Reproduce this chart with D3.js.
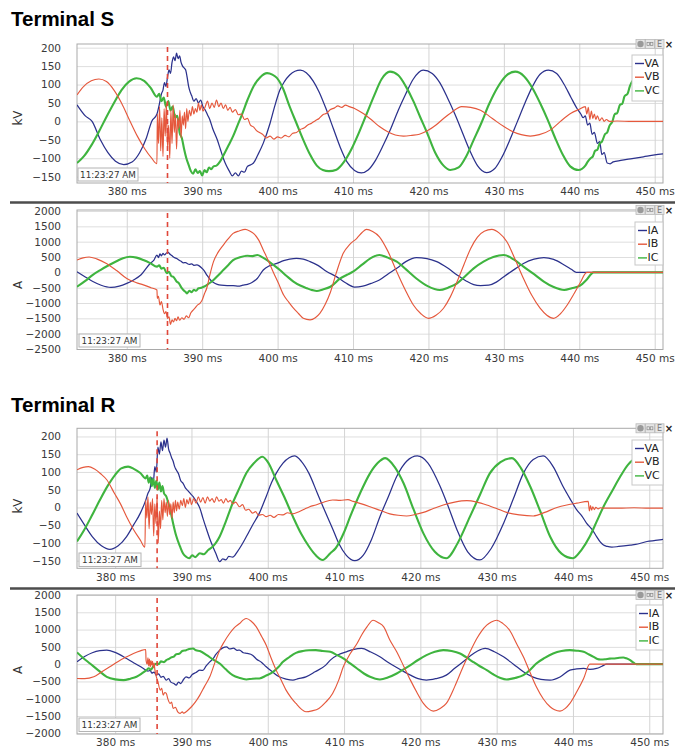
<!DOCTYPE html>
<html><head><meta charset="utf-8">
<script src="https://cdn.jsdelivr.net/npm/d3@7"></script>
<style>body{margin:0;background:#fff}svg{display:block}</style>
</head><body>
<svg id="c" width="675" height="750"></svg>
<script>
// ---------- tick labels / categories ----------
const timeTicks=[380,390,400,410,420,430,440,450];
const voltTicks=[200,150,100,50,0,-50,-100,-150];
const currTicksS=[2000,1500,1000,500,0,-500,-1000,-1500,-2000,-2500];
const currTicksR=[2000,1500,1000,500,0,-500,-1000,-1500,-2000];
const voltNames=["VA","VB","VC"];
const currNames=["IA","IB","IC"];
const titles=["Terminal S","Terminal R"];
const stampText="11:23:27 AM";
const faultTimes=[385.4,385.5];

// ---------- Terminal S voltages [ms, kV] ----------
const VA_S=[[373.4,45],[374.5,15],[375.4,0],[376.5,-50],[377.5,-85],[378.5,-108],[379.6,-117],[380.7,-110],[381.7,-85],[382.6,-45],[383.3,0],[384.0,20],[384.3,45],[384.6,75],[384.8,85],[385.0,105],[385.2,95],[385.4,120],[385.6,140],[385.8,130],[386.0,160],[386.2,175],[386.4,165],[386.6,185],[386.8,170],[387.0,178],[387.2,160],[387.4,150],[387.6,145],[387.8,140],[388.0,120],[388.2,95],[388.4,80],[388.6,70],[388.9,55],[389.2,62],[389.5,50],[389.8,58],[390.1,40],[390.4,31],[390.7,18],[391.0,5],[391.4,-20],[392.0,-50],[392.4,-75],[392.8,-100],[393.2,-120],[393.6,-135],[394.0,-148],[394.4,-140],[394.8,-148],[395.2,-135],[395.6,-138],[396.0,-122],[396.4,-118],[396.8,-113],[397.4,-90],[398.1,-59],[399.0,-5],[399.6,40],[400.3,85],[400.9,108],[401.6,126],[402.3,136],[403.0,139],[403.8,132],[404.7,110],[405.5,80],[406.5,30],[407.4,-20],[408.3,-70],[409.2,-110],[410.2,-133],[411.1,-140],[412.0,-132],[413.0,-105],[414.0,-65],[415.0,-20],[416.0,30],[417.0,75],[418.0,115],[419.3,139],[420.5,130],[421.5,105],[422.5,65],[423.5,20],[424.5,-30],[425.5,-80],[426.5,-120],[427.7,-139],[428.8,-128],[429.8,-95],[430.8,-50],[431.8,0],[432.8,50],[433.8,95],[434.8,128],[435.9,139],[437.0,130],[438.0,100],[438.9,65],[439.7,35],[440.2,20],[440.5,10],[440.8,15],[441.1,-10],[441.4,-5],[441.7,-35],[442.0,-30],[442.4,-60],[442.7,-55],[443.0,-90],[443.3,-85],[443.7,-113],[444.1,-115],[444.5,-110],[445.5,-106],[447,-101],[448.5,-96],[450,-91],[451.1,-88]];
const VB_S=[[373.4,72],[374.3,95],[375.3,110],[376.3,115],[377.3,108],[378.3,85],[379.3,50],[380.4,2],[381.4,-40],[382.4,-75],[383.3,-100],[384.0,-115],[384.05,20],[384.2,-60],[384.35,40],[384.5,-80],[384.65,10],[384.8,-95],[384.95,35],[385.1,-40],[385.25,50],[385.4,-70],[385.55,-10],[385.7,-100],[385.85,30],[386.0,-60],[386.15,45],[386.3,-30],[386.45,20],[386.6,-75],[386.75,10],[386.9,-20],[387.05,30],[387.2,-45],[387.35,15],[387.5,-10],[387.65,25],[387.8,-20],[387.95,35],[388.1,0],[388.3,30],[388.5,15],[388.7,40],[388.9,20],[389.1,35],[389.3,25],[389.5,50],[389.7,30],[389.9,45],[390.1,28],[390.4,40],[390.7,55],[391.0,35],[391.3,50],[391.6,38],[391.9,58],[392.2,40],[392.5,50],[392.8,35],[393.1,45],[393.4,30],[393.7,38],[394.0,25],[394.4,32],[394.8,18],[395.2,20],[395.6,5],[396.0,8],[396.4,-10],[396.8,-15],[397.2,-25],[397.6,-30],[398.0,-35],[398.5,-45],[399.0,-40],[399.5,-48],[400.0,-42],[400.5,-45],[401.0,-38],[401.5,-42],[402.0,-32],[402.5,-30],[403.0,-22],[403.5,-18],[404.0,-10],[404.5,-5],[405.0,2],[405.5,8],[406.0,18],[406.5,22],[407.0,32],[407.5,36],[408.0,42],[408.5,38],[409.0,44],[409.5,40],[410.2,35],[411.3,22],[412.4,5],[413.5,-14],[414.6,-28],[415.6,-37],[416.7,-40],[417.8,-38],[418.8,-35],[419.9,-25],[421.0,-10],[422.0,8],[423.1,25],[424.4,40],[425.6,38],[426.9,30],[428.0,15],[429.0,0],[430.0,-14],[431.2,-28],[432.3,-36],[433.5,-40],[434.7,-36],[436.2,-23],[437.5,0],[438.9,22],[439.9,32],[440.8,40],[441.0,20],[441.2,38],[441.4,5],[441.6,28],[441.8,8],[442.0,20],[442.2,5],[442.4,15],[442.7,2],[443.0,10],[443.3,0],[443.6,5],[444.0,0],[445,1],[447,0],[449,0],[451.1,0]];
const VC_S=[[373.4,-113],[374.3,-95],[375.3,-65],[376.3,-28],[377.3,12],[378.3,50],[379.3,85],[380.3,108],[381.3,117],[382.3,110],[383.2,90],[384.0,67],[384.3,75],[384.6,55],[384.9,65],[385.2,40],[385.5,55],[385.8,30],[386.1,40],[386.4,10],[386.7,15],[387.0,-30],[387.3,-45],[387.6,-75],[387.9,-100],[388.2,-118],[388.5,-135],[388.8,-142],[389.1,-130],[389.4,-140],[389.7,-135],[390.0,-147],[390.3,-132],[390.6,-138],[390.9,-125],[391.2,-130],[391.5,-122],[391.9,-120],[392.4,-108],[393.0,-85],[393.5,-65],[394.1,-40],[394.7,-10],[395.3,20],[396.0,58],[396.8,95],[397.7,120],[398.6,131],[399.3,127],[399.9,118],[400.7,90],[401.6,40],[402.5,-5],[403.4,-50],[404.3,-90],[405.2,-120],[406.0,-132],[406.8,-135],[407.8,-131],[408.8,-110],[409.8,-75],[410.8,-30],[411.8,20],[412.8,70],[413.8,115],[414.9,135],[416.0,125],[417.0,95],[418.0,55],[418.9,12],[419.9,-35],[420.9,-85],[422.0,-120],[422.9,-132],[424.0,-125],[425.0,-95],[426.0,-50],[427.0,-5],[428.0,45],[429.1,90],[430.2,122],[431.5,135],[432.7,122],[433.8,90],[434.8,50],[435.8,5],[436.8,-45],[437.8,-90],[438.8,-122],[439.9,-132],[440.8,-120],[441.1,-110],[441.5,-100],[441.8,-95],[442.1,-80],[442.4,-77],[442.7,-60],[443.0,-55],[443.4,-35],[443.7,-30],[444.0,-12],[444.4,0],[444.7,20],[445.0,22],[445.4,45],[445.7,48],[446.0,68],[446.4,75],[446.7,95],[447.0,108],[447.6,120],[448.3,132],[449.2,135],[450.2,128],[451.1,118]];

// ---------- Terminal S currents [ms, A] ----------
const IA_S=[[373.4,20],[374.5,-150],[375.5,-300],[376.6,-420],[377.9,-490],[379.0,-450],[380.0,-360],[380.9,-250],[381.9,-80],[383.1,290],[383.6,400],[384.0,565],[384.2,480],[384.4,600],[384.6,540],[384.8,620],[385.0,570],[385.3,640],[385.5,650],[385.7,600],[385.9,560],[386.1,520],[386.4,470],[386.6,455],[386.9,400],[387.2,360],[387.5,310],[387.8,320],[388.0,290],[388.3,260],[388.6,280],[388.9,230],[389.3,240],[389.6,210],[389.9,150],[390.2,75],[390.6,-80],[391.1,-250],[391.5,-330],[392.0,-390],[392.5,-420],[393.3,-435],[394.1,-430],[394.8,-450],[395.4,-420],[396.0,-390],[396.6,-330],[397.3,-200],[398.1,75],[398.8,200],[399.4,250],[399.9,290],[400.8,380],[401.6,430],[402.5,455],[403.4,430],[404.3,350],[405.4,220],[406.5,30],[407.8,-140],[409.0,-340],[410.2,-480],[411.3,-450],[412.4,-360],[413.5,-250],[414.6,-60],[415.8,130],[417.0,350],[418.4,480],[419.8,450],[421.1,350],[422.5,150],[423.8,-87],[425.0,-280],[426.0,-400],[426.9,-435],[428.0,-420],[429.0,-320],[430.0,-140],[431.3,80],[432.6,290],[434.0,430],[435.3,480],[436.6,420],[438.0,240],[439.0,90],[439.6,0],[441,0],[451.1,0]];
const IB_S=[[373.4,400],[374.2,470],[375.0,500],[376.0,440],[377.3,290],[378.7,50],[380.0,-200],[381.2,-330],[382.2,-410],[383.2,-500],[384.0,-575],[384.05,-850],[384.2,-780],[384.4,-1065],[384.6,-950],[384.8,-1200],[385.0,-1350],[385.2,-1280],[385.4,-1500],[385.6,-1450],[385.8,-1700],[386.0,-1550],[386.2,-1620],[386.4,-1500],[386.6,-1580],[386.8,-1450],[387.0,-1560],[387.3,-1480],[387.6,-1530],[387.9,-1420],[388.2,-1480],[388.5,-1320],[388.8,-1230],[389.1,-1150],[389.4,-1060],[389.7,-1010],[390.0,-900],[390.3,-700],[390.6,-520],[391.0,-100],[391.5,350],[392.1,650],[392.8,890],[393.4,1080],[394.1,1270],[394.9,1350],[395.7,1400],[396.3,1350],[396.8,1270],[397.5,1050],[398.1,730],[398.8,360],[399.4,20],[400.1,-350],[400.8,-740],[401.5,-980],[402.1,-1170],[402.8,-1350],[403.4,-1500],[404.3,-1550],[405.0,-1480],[405.6,-1340],[406.3,-1050],[407.0,-650],[407.8,0],[408.7,620],[409.6,920],[410.5,1110],[411.2,1300],[411.8,1400],[412.6,1330],[413.5,1160],[414.6,700],[415.8,20],[416.9,-560],[418.0,-1065],[419.0,-1350],[420.0,-1500],[421.0,-1400],[422.0,-1170],[422.9,-800],[423.8,-300],[424.7,250],[425.6,780],[426.5,1150],[427.4,1340],[428.4,1400],[429.4,1280],[430.4,1000],[431.5,420],[432.6,-200],[433.7,-750],[434.8,-1170],[435.7,-1400],[436.6,-1500],[437.5,-1350],[438.4,-1065],[439.3,-700],[440.1,-350],[441.0,0],[442,0],[451.1,0]];
const IC_S=[[373.4,-470],[374.5,-280],[375.5,-80],[376.5,75],[377.6,230],[378.7,370],[379.5,460],[380.4,510],[381.3,480],[382.2,400],[383.1,300],[384.0,185],[384.3,230],[384.6,120],[384.9,150],[385.3,-30],[385.6,20],[385.9,-120],[386.2,-150],[386.6,-300],[386.9,-350],[387.2,-480],[387.5,-575],[387.8,-640],[388.0,-685],[388.3,-600],[388.6,-650],[388.9,-570],[389.2,-600],[389.5,-520],[389.9,-500],[390.2,-470],[390.8,-380],[391.5,-250],[392.2,-80],[392.8,75],[393.5,250],[394.1,400],[395.0,490],[396.0,540],[396.7,530],[397.3,565],[398.0,490],[398.6,400],[399.5,230],[400.3,75],[401.2,-120],[402.1,-300],[403.0,-430],[403.9,-520],[404.6,-580],[405.2,-610],[406.0,-560],[407.0,-470],[408.3,-200],[409.2,-80],[410.0,20],[411.2,250],[412.3,455],[413.5,565],[414.6,480],[415.8,350],[417.1,80],[418.4,-200],[419.9,-450],[421.5,-575],[422.6,-500],[423.8,-360],[424.9,-120],[426.0,130],[427.3,350],[428.6,500],[430.0,565],[431.3,420],[432.6,185],[434.0,-60],[435.3,-300],[436.6,-480],[438.0,-575],[439.0,-520],[440.1,-435],[441.0,-230],[441.9,0],[443,0],[451.1,0]];

// ---------- Terminal R voltages [ms, kV] ----------
const VA_R=[[375.0,-16],[376.0,-50],[377.0,-82],[378.2,-108],[379.3,-118],[380.4,-108],[381.5,-82],[382.4,-50],[383.3,-16],[384.0,20],[384.3,40],[384.6,55],[384.8,85],[385.0,70],[385.2,115],[385.4,100],[385.6,170],[385.8,150],[386.0,185],[386.2,160],[386.4,190],[386.6,170],[386.8,195],[387.0,165],[387.2,153],[387.4,140],[387.6,130],[387.8,115],[388.0,106],[388.3,95],[388.6,75],[388.9,68],[389.2,55],[389.5,48],[389.9,38],[390.2,31],[390.6,18],[391.1,-2],[391.5,-30],[392.0,-63],[392.4,-88],[392.8,-110],[393.2,-130],[393.7,-153],[394.1,-145],[394.5,-148],[394.9,-138],[395.4,-140],[396.0,-125],[396.6,-105],[397.2,-82],[398.0,-50],[398.9,-16],[399.8,31],[400.5,70],[401.1,96],[402.0,125],[402.8,140],[403.5,145],[404.4,130],[405.4,96],[406.5,40],[407.6,-16],[408.5,-60],[409.3,-101],[410.3,-135],[411.4,-150],[412.5,-135],[413.6,-90],[414.7,-26],[415.8,30],[416.9,87],[418.2,130],[419.6,145],[421.0,125],[422.6,59],[423.7,0],[424.8,-63],[426.2,-125],[427.8,-148],[429.3,-115],[430.9,-45],[432.2,25],[433.5,96],[434.8,135],[436.1,145],[437.4,115],[438.7,59],[439.6,25],[440.5,-7],[441.2,-25],[441.8,-45],[442.5,-62],[443.1,-82],[443.6,-98],[444.0,-106],[444.5,-110],[445.1,-112],[446.0,-110],[447.5,-106],[448.5,-103],[449.7,-96],[450.8,-93],[451.8,-90]];
const VB_R=[[375.0,106],[375.8,113],[376.5,115],[377.3,108],[378.1,95],[378.9,78],[379.9,40],[380.7,10],[381.5,-26],[382.4,-62],[383.3,-92],[383.9,-112],[384.0,20],[384.15,-30],[384.3,30],[384.45,-60],[384.6,15],[384.75,-20],[384.9,25],[385.05,-80],[385.2,10],[385.35,-45],[385.5,30],[385.65,-100],[385.8,-10],[385.95,-60],[386.1,20],[386.25,-35],[386.4,25],[386.55,-15],[386.7,15],[386.85,-25],[387.0,20],[387.15,-20],[387.3,10],[387.45,-30],[387.6,15],[387.75,-15],[387.9,20],[388.05,-10],[388.2,15],[388.4,-5],[388.6,20],[388.8,5],[389.0,25],[389.2,0],[389.4,22],[389.6,10],[389.8,28],[390.0,8],[390.3,25],[390.6,12],[390.9,30],[391.2,15],[391.5,28],[391.8,12],[392.1,30],[392.4,18],[392.7,25],[393.0,14],[393.3,30],[393.6,18],[393.9,22],[394.2,12],[394.5,25],[394.8,15],[395.1,20],[395.4,10],[395.8,15],[396.3,2],[396.7,8],[397.1,-8],[397.5,-5],[398.0,-16],[398.4,-12],[398.8,-22],[399.3,-20],[399.8,-26],[400.3,-22],[400.8,-28],[401.4,-20],[402.0,-21],[402.6,-15],[403.2,-18],[404.1,-12],[404.8,-5],[405.5,2],[406.3,7],[407.2,14],[408.5,21],[409.5,20],[410.5,22],[411.2,17],[412.3,10],[413.4,2],[414.7,-8],[416.0,-18],[417.1,-22],[418.2,-24],[419.3,-20],[420.4,-14],[421.7,-3],[423.0,7],[424.5,15],[426.1,19],[427.4,15],[428.7,7],[430.0,-3],[431.3,-14],[433.0,-21],[434.8,-24],[436.3,-14],[437.9,0],[439.2,7],[440.5,12],[442.0,17],[442.15,-10],[442.3,5],[442.45,-8],[442.6,2],[442.8,-6],[443.0,0],[443.3,-4],[443.6,-1],[444,-2],[446,-2],[448,-1],[450,-2],[451.8,-2]];
const VC_R=[[375.0,-96],[375.9,-65],[376.9,-25],[378.0,21],[379.0,60],[380.0,92],[380.8,110],[381.7,115],[382.5,108],[383.3,97],[384.0,82],[384.2,90],[384.4,70],[384.6,85],[384.8,60],[385.0,80],[385.2,55],[385.4,75],[385.6,50],[385.8,70],[386.0,45],[386.2,60],[386.4,40],[386.7,31],[387.0,10],[387.3,-15],[387.6,-45],[388.0,-80],[388.5,-110],[388.9,-130],[389.3,-139],[389.7,-143],[390.1,-135],[390.5,-140],[391.1,-129],[391.6,-132],[392.2,-120],[392.8,-110],[393.2,-100],[393.7,-82],[394.5,-40],[395.4,12],[396.3,55],[397.2,97],[398.2,125],[399.3,143],[400.1,125],[401.1,78],[402.2,28],[403.3,-26],[404.4,-75],[405.4,-110],[406.3,-135],[407.2,-148],[408.2,-129],[408.9,-115],[410.0,-70],[410.8,-26],[412.1,40],[413.4,96],[414.4,125],[415.4,139],[416.6,115],[417.8,68],[419.1,-5],[420.4,-73],[421.9,-125],[423.4,-143],[424.9,-100],[426.5,-26],[427.8,35],[429.1,96],[430.5,128],[432.0,139],[433.2,110],[434.4,59],[435.7,-10],[437.0,-82],[438.5,-130],[440.0,-143],[441.1,-120],[442.2,-82],[443.1,-40],[444.0,2],[445.1,45],[446.2,87],[447.2,120],[448.2,137],[449.5,140],[450.5,130],[451.8,115]];

// ---------- Terminal R currents [ms, A] ----------
const IA_R=[[375.0,67],[376.0,220],[377.0,330],[378.0,390],[378.9,405],[380.0,340],[381.5,164],[382.6,20],[383.7,-125],[384.3,-200],[384.6,-180],[384.8,-260],[385.1,-230],[385.4,-318],[385.7,-280],[386.0,-380],[386.3,-350],[386.7,-462],[387.0,-420],[387.3,-520],[387.7,-560],[388.0,-607],[388.3,-520],[388.6,-560],[389.0,-430],[389.3,-366],[389.7,-400],[390.1,-300],[390.6,-240],[391.1,-173],[391.5,-180],[391.9,-60],[392.4,67],[392.8,150],[393.2,280],[393.7,405],[394.1,470],[394.6,500],[395.0,440],[395.5,460],[396.0,400],[396.3,405],[396.8,330],[397.3,310],[398.0,260],[398.5,150],[399.2,50],[399.8,-77],[400.6,-220],[401.5,-366],[402.4,-430],[403.3,-462],[404.0,-420],[405.0,-366],[406.2,-220],[407.6,-29],[408.2,116],[409.3,280],[410.3,356],[411.3,430],[412.3,453],[413.5,350],[414.7,212],[415.8,50],[416.9,-96],[417.8,-210],[418.7,-318],[419.7,-420],[420.8,-462],[422.0,-420],[423.4,-318],[424.5,-120],[425.6,67],[426.6,250],[427.5,380],[428.5,453],[429.7,360],[430.9,212],[432.2,0],[433.5,-221],[434.7,-370],[435.8,-440],[437.0,-462],[438.3,-370],[439.6,-173],[440.5,-140],[441.4,-125],[442.2,-150],[443.1,-125],[443.8,-60],[444.4,0],[446,0],[451.8,0]];
const IB_R=[[375.0,-414],[376.0,-420],[377.2,-366],[378.2,-230],[379.3,-77],[380.4,80],[381.5,212],[382.4,310],[383.3,385],[384.0,424],[384.05,116],[384.2,0],[384.3,180],[384.4,-50],[384.5,150],[384.6,-80],[384.7,100],[384.8,-30],[384.9,80],[385.0,-100],[385.1,30],[385.2,-150],[385.4,-366],[385.6,-500],[385.9,-751],[386.1,-700],[386.3,-895],[386.5,-820],[386.7,-847],[386.9,-1000],[387.2,-1136],[387.4,-1100],[387.6,-1280],[387.9,-1250],[388.2,-1380],[388.5,-1425],[388.8,-1380],[389.0,-1420],[389.3,-1377],[389.6,-1320],[390.0,-1232],[390.5,-1100],[391.1,-895],[391.7,-650],[392.4,-366],[393.0,0],[393.7,405],[394.3,650],[395.0,886],[395.6,1050],[396.3,1175],[396.8,1280],[397.2,1320],[397.8,1250],[398.5,1078],[399.2,800],[399.8,549],[400.4,200],[401.1,-173],[401.8,-480],[402.4,-751],[403.1,-980],[403.7,-1136],[404.4,-1300],[405.0,-1377],[405.8,-1350],[406.7,-1280],[407.6,-1100],[408.5,-847],[409.3,-462],[409.9,-77],[410.8,300],[411.7,597],[412.4,880],[413.0,1078],[413.8,1271],[414.5,1200],[415.2,1078],[416.0,700],[416.9,356],[417.8,-50],[418.7,-462],[419.5,-800],[420.4,-1136],[421.0,-1280],[421.7,-1358],[422.6,-1280],[423.4,-1136],[424.5,-650],[425.6,-77],[426.5,350],[427.4,742],[428.0,950],[428.7,1127],[429.3,1220],[430.0,1271],[430.8,1180],[431.7,982],[432.6,600],[433.5,212],[434.3,-200],[435.2,-655],[436.1,-1000],[437.0,-1232],[437.6,-1320],[438.3,-1358],[439.0,-1280],[439.6,-1136],[440.5,-800],[441.4,-414],[442.2,0],[443,0],[451.8,0]];
const IC_R=[[375.0,340],[375.8,180],[376.7,19],[377.8,-180],[378.9,-366],[380.0,-440],[381.1,-462],[382.0,-420],[382.8,-366],[383.5,-270],[384.1,-173],[384.4,-120],[384.7,-160],[385.0,-60],[385.4,19],[385.7,0],[386.0,80],[386.4,60],[386.7,116],[387.0,150],[387.4,200],[387.7,220],[388.0,289],[388.4,300],[388.8,380],[389.3,405],[389.7,440],[390.2,453],[390.6,400],[391.1,380],[392.0,260],[392.8,140],[393.7,19],[394.5,-150],[395.4,-318],[396.3,-400],[397.2,-443],[398.0,-420],[398.9,-414],[399.8,-330],[400.7,-221],[401.4,-80],[402.0,67],[402.8,200],[403.7,327],[404.6,380],[405.4,400],[406.3,405],[407.2,380],[408.2,356],[409.1,260],[409.9,164],[410.8,20],[411.7,-125],[412.6,-270],[413.4,-366],[414.1,-420],[414.7,-443],[415.8,-380],[416.9,-270],[417.8,-150],[418.7,-29],[419.7,120],[420.8,260],[421.9,360],[423.0,405],[424.1,380],[425.2,308],[426.0,200],[426.9,67],[427.8,-60],[428.7,-173],[429.6,-300],[430.5,-400],[431.3,-443],[432.4,-400],[433.5,-318],[434.4,-160],[435.2,19],[436.3,180],[437.4,308],[438.5,380],[439.6,405],[440.5,390],[441.4,356],[442.1,280],[442.7,212],[443.2,150],[443.6,135],[444.2,140],[444.8,160],[445.3,164],[445.9,180],[446.6,193],[447.0,170],[447.5,116],[447.9,50],[448.3,0],[449,0],[451.8,0]];

// ---------- styling / layout ----------
const colors=["#2b318c","#e5583c","#3fb43f"];
const widths=[1.25,1.15,2.1];
const FONT="'DejaVu Sans', Verdana, sans-serif";

const panels=[
 {title:titles[0],titleY:26,x0:77,x1:663,y0:44,y1:183,t:[373.4,451.1],v:[-167.2,210],ticks:voltTicks,unit:"kV",unitY:118,names:voltNames,series:[VA_S,VB_S,VC_S],fault:faultTimes[0],leg:[632,55,31,46],stamp:[78,168,60,13]},
 {x0:77,x1:663,y0:210,y1:349.5,t:[373.4,451.1],v:[-2516,2033],ticks:currTicksS,unit:"A",unitY:285,names:currNames,series:[IA_S,IB_S,IC_S],fault:faultTimes[0],leg:[635,222,28,43],stamp:[79,334,61,13],sep:202.5},
 {title:titles[1],titleY:411.5,x0:77,x1:663,y0:428.3,y1:568.3,t:[375.0,451.8],v:[-171.5,223],ticks:voltTicks,unit:"kV",unitY:506,names:voltNames,series:[VA_R,VB_R,VC_R],fault:faultTimes[1],leg:[632,440,31,45],stamp:[79,553,62,13.5]},
 {x0:77,x1:663,y0:595,y1:734,t:[375.0,451.8],v:[-2020,2000],ticks:currTicksR,unit:"A",unitY:670,names:currNames,series:[IA_R,IB_R,IC_R],fault:faultTimes[1],leg:[636,605,27,45],stamp:[79,718,61,13.5],sep:588.5}
];

const svg=d3.select("#c");

panels.forEach((p,pi)=>{
  const x=d3.scaleLinear().domain(p.t).range([p.x0,p.x1]);
  const y=d3.scaleLinear().domain(p.v).range([p.y1,p.y0]);
  const W=p.x1-p.x0,H=p.y1-p.y0;
  const g=svg.append("g");

  if(p.title){
    svg.append("text").attr("x",11).attr("y",p.titleY).text(p.title)
      .attr("font-family","'Liberation Sans', Arial, sans-serif").attr("font-weight","bold")
      .attr("font-size",20.5).attr("fill","#000");
  }
  if(p.sep){
    svg.append("line").attr("x1",10).attr("x2",675).attr("y1",p.sep).attr("y2",p.sep)
      .attr("stroke","#4d4d4d").attr("stroke-width",2.6);
  }

  g.append("rect").attr("x",p.x0).attr("y",p.y0).attr("width",W).attr("height",H).attr("fill","#fff");

  // y axis with gridlines
  const ya=g.append("g").attr("transform",`translate(${p.x0},0)`)
    .call(d3.axisLeft(y).tickValues(p.ticks).tickSize(-W).tickPadding(16).tickFormat(d3.format("d")));
  ya.select(".domain").remove();
  ya.selectAll(".tick line").attr("stroke","#dedede");
  ya.selectAll(".tick text").attr("font-family",FONT).attr("font-size",10.5).attr("fill","#3a3a3a");

  // x axis with gridlines
  const xa=g.append("g").attr("transform",`translate(0,${p.y1})`)
    .call(d3.axisBottom(x).tickValues(timeTicks).tickSize(-H).tickPadding(5).tickFormat(d=>d+" ms"));
  xa.select(".domain").remove();
  xa.selectAll(".tick line").attr("stroke","#d4d4d4");
  xa.selectAll(".tick text").attr("font-family",FONT).attr("font-size",10.5).attr("fill","#3a3a3a");

  // frame
  g.append("rect").attr("x",p.x0).attr("y",p.y0).attr("width",W).attr("height",H)
    .attr("fill","none").attr("stroke","#a9a9a9").attr("stroke-width",1);

  // unit label
  g.append("text").attr("transform",`translate(18,${p.unitY}) rotate(-90)`).attr("text-anchor","middle")
    .attr("dominant-baseline","middle").attr("font-family",FONT).attr("font-size",12).attr("fill","#333").text(p.unit);

  // clip
  const cid="clip"+pi;
  svg.append("clipPath").attr("id",cid).append("rect").attr("x",p.x0).attr("y",p.y0).attr("width",W).attr("height",H);
  const lg=g.append("g").attr("clip-path",`url(#${cid})`);
  const line=d3.line().x(d=>x(d[0])).y(d=>y(d[1])).curve(d3.curveMonotoneX);
  [0,2,1].forEach(i=>{
    lg.append("path").datum(p.series[i]).attr("d",line).attr("fill","none")
      .attr("stroke",colors[i]).attr("stroke-width",widths[i]).attr("stroke-linejoin","round");
  });

  // fault dashed line
  g.append("line").attr("x1",x(p.fault)).attr("x2",x(p.fault)).attr("y1",p.y0+3).attr("y2",p.y1)
    .attr("stroke","#e0473a").attr("stroke-width",1.6).attr("stroke-dasharray","5,4");

  // timestamp box
  const s=p.stamp;
  g.append("rect").attr("x",s[0]).attr("y",s[1]).attr("width",s[2]).attr("height",s[3])
    .attr("fill","#fdfdfd").attr("stroke","#b4b4b4");
  g.append("text").attr("x",s[0]+s[2]/2).attr("y",s[1]+s[3]/2+0.5).attr("text-anchor","middle")
    .attr("dominant-baseline","middle").attr("font-family",FONT).attr("font-size",8.8).attr("fill","#333").text(stampText);

  // legend
  const L=p.leg;
  g.append("rect").attr("x",L[0]).attr("y",L[1]).attr("width",L[2]).attr("height",L[3])
    .attr("fill","#fff").attr("stroke","#c8c8c8");
  p.names.forEach((n,i)=>{
    const yy=L[1]+8.5+i*13.7;
    g.append("line").attr("x1",L[0]+3).attr("x2",L[0]+12).attr("y1",yy).attr("y2",yy)
      .attr("stroke",colors[i]).attr("stroke-width",1.4);
    g.append("text").attr("x",L[0]+12.5).attr("y",yy).attr("dominant-baseline","middle")
      .attr("font-family",FONT).attr("font-size",11).attr("fill","#222").text(n);
  });

  // toolbar icons
  const iy=p.y0-4.5;
  [636,645.5,655].forEach((ix,k)=>{
    g.append("rect").attr("x",ix).attr("y",iy).attr("width",9).attr("height",9)
      .attr("fill","#e6e6e6").attr("stroke","#b8b8b8").attr("stroke-width",0.8);
    if(k===0) g.append("circle").attr("cx",ix+4.5).attr("cy",iy+4.5).attr("r",3.2).attr("fill","#9a9a9a");
    if(k===1){g.append("rect").attr("x",ix+1.5).attr("y",iy+3).attr("width",2.6).attr("height",3).attr("fill","none").attr("stroke","#888").attr("stroke-width",0.7);
              g.append("rect").attr("x",ix+4.8).attr("y",iy+3).attr("width",2.6).attr("height",3).attr("fill","none").attr("stroke","#888").attr("stroke-width",0.7);}
    if(k===2) g.append("text").attr("x",ix+4.5).attr("y",iy+7.6).attr("text-anchor","middle")
      .attr("font-family",FONT).attr("font-size",8).attr("fill","#777").text("E");
  });
  g.append("text").attr("x",669).attr("y",iy+8).attr("text-anchor","middle")
    .attr("font-family",FONT).attr("font-weight","bold").attr("font-size",10).attr("fill","#222").text("×");
});
</script>
</body></html>
